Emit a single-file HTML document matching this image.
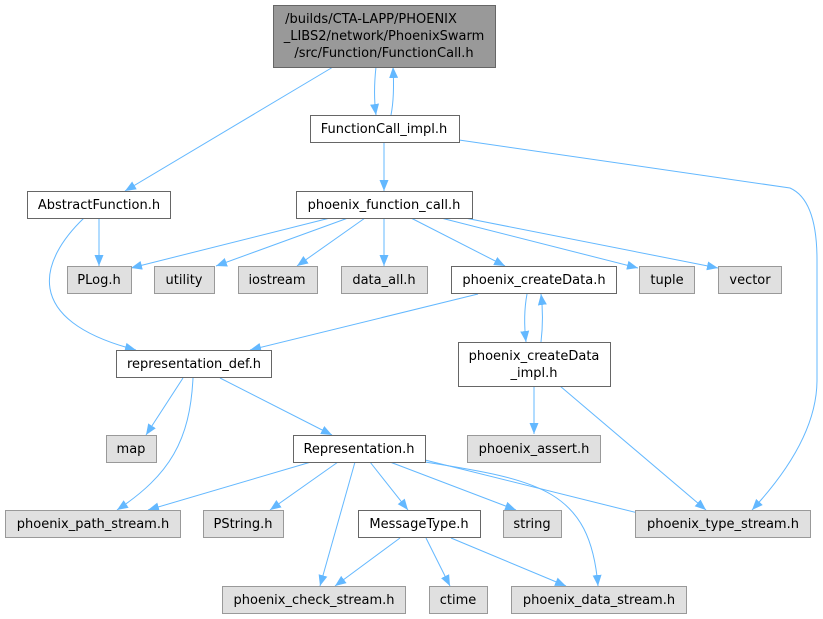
<!DOCTYPE html>
<html><head><meta charset="utf-8"><style>
html,body{margin:0;padding:0;background:#fff;}
svg{display:block;}
text{font-family:"DejaVu Sans","Liberation Sans",sans-serif;font-size:13px;fill:#000;text-anchor:middle;}
.w{fill:#fff;stroke:#666;stroke-width:1;}
.g{fill:#e0e0e0;stroke:#999;stroke-width:1;}
.e{fill:none;stroke:#63b8ff;stroke-width:1;}
</style></head><body>
<svg width="823" height="619" viewBox="0 0 823 619" xmlns="http://www.w3.org/2000/svg">
<defs>
<marker id="a" markerUnits="userSpaceOnUse" markerWidth="12" markerHeight="10" refX="11" refY="5" orient="auto">
<path d="M0,0.5 L11,5 L0,9.5 z" fill="#63b8ff"/>
</marker>
</defs>
<g marker-end="url(#a)">
<path class="e" d="M333,67 L125,191"/>
<path class="e" d="M376,67 C374,85 374,100 376,115"/>
<path class="e" d="M391,115 C394,100 394,85 393,67"/>
<path class="e" d="M384,143 L384,191"/>
<path class="e" d="M459,140 L790,188 Q817,200 817,260 L817,380 Q817,440 752,510"/>
<path class="e" d="M99,218 L99,266"/>
<path class="e" d="M84,218 C40,260 20,320 136,350"/>
<path class="e" d="M330,218 L131,268"/>
<path class="e" d="M348,218 L216,266"/>
<path class="e" d="M365,218 L297,266"/>
<path class="e" d="M384,218 L384,266"/>
<path class="e" d="M411,218 L505,266"/>
<path class="e" d="M441,218 L638,268"/>
<path class="e" d="M465,218 L718,268"/>
<path class="e" d="M478,294 L250,350"/>
<path class="e" d="M527,294 C524,310 524,325 526,342"/>
<path class="e" d="M541,342 C543,325 543,310 541,294"/>
<path class="e" d="M534,386 L534,434"/>
<path class="e" d="M560,386 L706,510"/>
<path class="e" d="M183,378 L146,435"/>
<path class="e" d="M193,378 C190,440 170,475 117,510"/>
<path class="e" d="M220,378 L332,435"/>
<path class="e" d="M311,462 L148,510"/>
<path class="e" d="M338,462 L270,510"/>
<path class="e" d="M355,462 L320,586"/>
<path class="e" d="M370,462 L408,510"/>
<path class="e" d="M390,462 L516,510"/>
<path class="e" d="M425,460 L658,518"/>
<path class="e" d="M425,462 C540,480 590,490 598,586"/>
<path class="e" d="M400,538 L335,586"/>
<path class="e" d="M426,538 L450,586"/>
<path class="e" d="M451,538 L566,586"/>
</g>

<rect x="273.5" y="5.5" width="222" height="62" fill="#999" stroke="#666"/>
<text x="371" y="23">/builds/CTA-LAPP/PHOENIX</text>
<text x="384" y="40">_LIBS2/network/PhoenixSwarm</text>
<text x="384" y="57">/src/Function/FunctionCall.h</text>

<rect class="w" x="310.5" y="115.5" width="149" height="27"/><text x="384" y="133">FunctionCall_impl.h</text>
<rect class="w" x="27.5" y="191.5" width="143" height="27"/><text x="99" y="209">AbstractFunction.h</text>
<rect class="w" x="296.5" y="191.5" width="176" height="27"/><text x="384" y="209">phoenix_function_call.h</text>

<rect class="g" x="67.5" y="266.5" width="64" height="27"/><text x="99" y="284">PLog.h</text>
<rect class="g" x="154.5" y="266.5" width="60" height="27"/><text x="184" y="284">utility</text>
<rect class="g" x="238.5" y="266.5" width="79" height="27"/><text x="277" y="284">iostream</text>
<rect class="g" x="341.5" y="266.5" width="86" height="27"/><text x="384" y="284">data_all.h</text>
<rect class="w" x="451.5" y="266.5" width="165" height="27"/><text x="534" y="284">phoenix_createData.h</text>
<rect class="g" x="639.5" y="266.5" width="55" height="27"/><text x="667" y="284">tuple</text>
<rect class="g" x="718.5" y="266.5" width="63" height="27"/><text x="750" y="284">vector</text>

<rect class="w" x="116.5" y="350.5" width="155" height="27"/><text x="194" y="368">representation_def.h</text>
<rect class="w" x="458.5" y="342.5" width="152" height="44"/><text x="534" y="360">phoenix_createData</text><text x="534" y="377">_impl.h</text>

<rect class="g" x="106.5" y="435.5" width="50" height="27"/><text x="131" y="453">map</text>
<rect class="w" x="293.5" y="435.5" width="132" height="27"/><text x="359" y="453">Representation.h</text>
<rect class="g" x="467.5" y="435.5" width="133" height="27"/><text x="534" y="453">phoenix_assert.h</text>

<rect class="g" x="5.5" y="510.5" width="175" height="27"/><text x="93" y="528">phoenix_path_stream.h</text>
<rect class="g" x="203.5" y="510.5" width="80" height="27"/><text x="243" y="528">PString.h</text>
<rect class="w" x="358.5" y="510.5" width="122" height="27"/><text x="419" y="528">MessageType.h</text>
<rect class="g" x="503.5" y="510.5" width="58" height="27"/><text x="532" y="528">string</text>
<rect class="g" x="635.5" y="510.5" width="175" height="27"/><text x="723" y="528">phoenix_type_stream.h</text>

<rect class="g" x="222.5" y="586.5" width="183" height="27"/><text x="314" y="604">phoenix_check_stream.h</text>
<rect class="g" x="429.5" y="586.5" width="58" height="27"/><text x="458" y="604">ctime</text>
<rect class="g" x="511.5" y="586.5" width="175" height="27"/><text x="599" y="604">phoenix_data_stream.h</text>
</svg>
</body></html>
